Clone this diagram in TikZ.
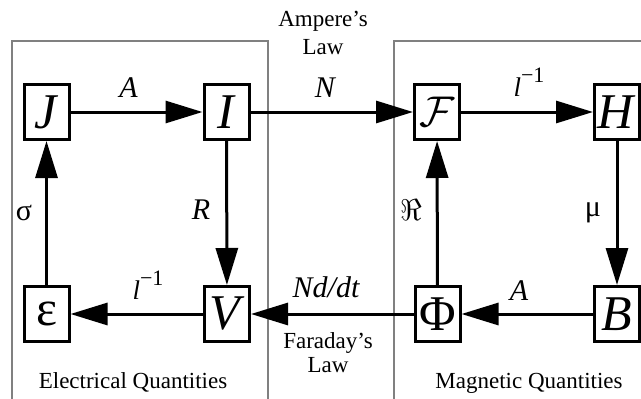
\documentclass[tikz,border=0pt]{standalone}
\usepackage{fontspec}
\setmainfont{Liberation Serif}
\usetikzlibrary{arrows.meta}
\newcommand{\linv}{{\itshape\fontsize{27}{27}\selectfont l}\raisebox{14pt}{\upshape\fontsize{22}{22}\selectfont −1}}
\begin{document}
\begin{tikzpicture}[x=1pt,y=-1pt,
  qbox/.style={draw,line width=3pt,minimum width=45pt,minimum height=55pt,inner sep=0pt,font=\fontsize{50}{52}\selectfont},
  flow/.style={line width=3pt,-{Triangle[length=37pt,width=22pt]}},
  lbl/.style={font=\fontsize{30}{32}\selectfont\itshape,inner sep=0pt},
  ulbl/.style={font=\fontsize{30}{32}\selectfont\upshape,inner sep=0pt},
  txt/.style={font=\fontsize{23}{25}\selectfont,align=center,inner sep=0pt},
  region/.style={draw=black!50,line width=2.5pt}]
\useasboundingbox (0,0) rectangle (641,399);
% regions
\draw[region] (12,410) -- (12,41) -- (268,41) -- (268,410);
\draw[region] (394,410) -- (394,41) -- (660,41);
% boxes
\node[qbox] (J) at (46.5,112) {\textit{J}};
\node[qbox] (I) at (226.5,112) {\textit{I}};
\node[qbox] (F) at (437,112) {\scalebox{4.3}{\normalsize$\mathcal{F}$}};
\node[qbox] (H) at (617,112) {\textit{H}};
\node[qbox] (E) at (46.5,314) {ε};
\node[qbox] (V) at (227,314) {\textit{V}};
\node[qbox] (P) at (437.5,314) {Φ};
\node[qbox] (B) at (617,314) {\textit{B}};
% connectors
\draw[flow] (J) -- (I);
\draw[flow] (I) -- (F);
\draw[flow] (F) -- (H);
\draw[flow] (H) -- (B);
\draw[flow] (B) -- (P);
\draw[flow] (P) -- (V);
\draw[flow] (V) -- (E);
\draw[flow] (E) -- (J);
\draw[flow] (I) -- (V);
\draw[flow] (P) -- (F);
% labels
\node[lbl] (lA) at (128.5,88) {A};
\node[lbl] (lN) at (325,88) {N};
\node[lbl] (lL1) at (529,82) {\linv};
\node[ulbl] (ls) at (24,213) {σ};
\node[lbl] (lR) at (201,210) {R};
\node[ulbl] (lRe) at (411,210) {\scalebox{3}{\normalsize$\Re$}};
\node[ulbl] (lmu) at (593,213) {μ};
\node[lbl] (lL2) at (148,285) {\linv};
\node[lbl] (lNd) at (326,287) {Nd/dt};
\node[lbl] (lA2) at (519,291) {A};
% texts
\node[txt,anchor=north,font=\fontsize{23}{28}\selectfont] (amp) at (323,11) {Ampere’s\\Law};
\node[txt,anchor=north,font=\fontsize{23}{24}\selectfont] (far) at (328,332) {Faraday’s\\Law};
\node[txt,anchor=base] (elq) at (133,388) {Electrical Quantities};
\node[txt,anchor=base] (mgq) at (529,388) {Magnetic Quantities};
\end{tikzpicture}
\end{document}
